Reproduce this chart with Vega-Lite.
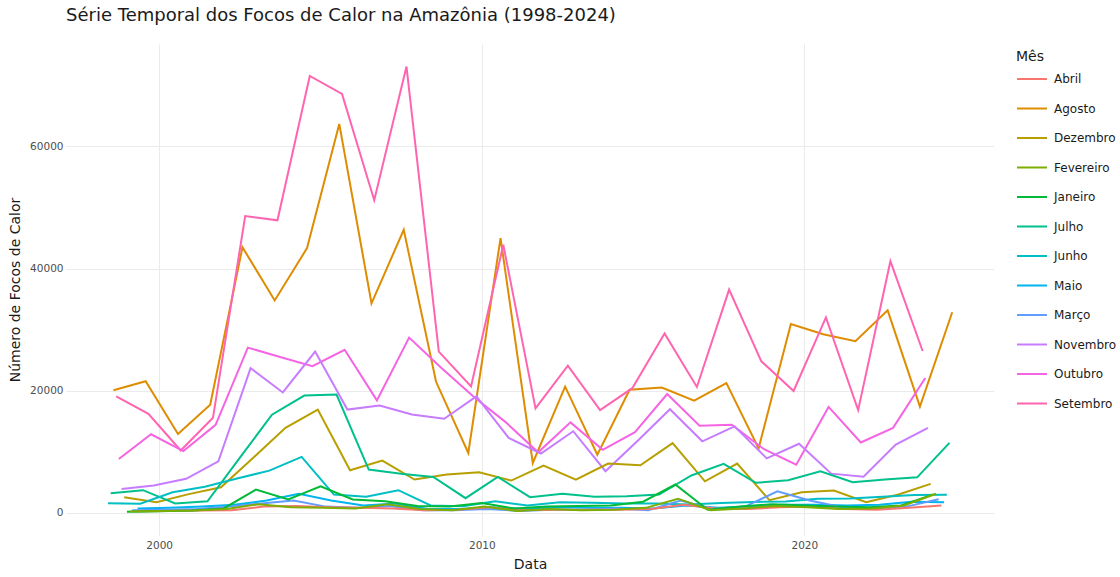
{
"$schema":"https://vega.github.io/schema/vega-lite/v6.json",
"width":928,"height":491,
"autosize":{"type":"none"},
"padding":{"left":66,"top":44,"right":126,"bottom":42},
"background":"white",
"title":{"text":"Série Temporal dos Focos de Calor na Amazônia (1998-2024)","anchor":"start","frame":"group","font":"DejaVu Sans","fontSize":18,"fontWeight":"normal","color":"#1a1a1a","offset":1,"baseline":"bottom"},
"config":{"view":{"stroke":null},"axis":{"domain":false,"ticks":false,"gridColor":"#ebebeb","gridWidth":1,"labelFont":"DejaVu Sans","labelFontSize":10.5,"labelColor":"#4d4d4d","titleFont":"DejaVu Sans","titleFontSize":14,"titleFontWeight":"normal","titleColor":"#1a1a1a"},"legend":{"labelFont":"DejaVu Sans","titleFont":"DejaVu Sans"}},
"data":{"values":[
{"d":"1998-08-01","m":"Agosto","v":20075},{"d":"1999-08-01","m":"Agosto","v":21540},{"d":"2000-08-01","m":"Agosto","v":12900},{"d":"2001-08-01","m":"Agosto","v":17700},{"d":"2002-08-01","m":"Agosto","v":43500},{"d":"2003-08-01","m":"Agosto","v":34780},{"d":"2004-08-01","m":"Agosto","v":43350},{"d":"2005-08-01","m":"Agosto","v":63700},{"d":"2006-08-01","m":"Agosto","v":34300},{"d":"2007-08-01","m":"Agosto","v":46350},{"d":"2008-08-01","m":"Agosto","v":21450},{"d":"2009-08-01","m":"Agosto","v":9800},{"d":"2010-08-01","m":"Agosto","v":45000},{"d":"2011-08-01","m":"Agosto","v":8150},{"d":"2012-08-01","m":"Agosto","v":20650},{"d":"2013-08-01","m":"Agosto","v":9500},{"d":"2014-08-01","m":"Agosto","v":20150},{"d":"2015-08-01","m":"Agosto","v":20500},{"d":"2016-08-01","m":"Agosto","v":18350},{"d":"2017-08-01","m":"Agosto","v":21240},{"d":"2018-08-01","m":"Agosto","v":10550},{"d":"2019-08-01","m":"Agosto","v":30900},{"d":"2020-08-01","m":"Agosto","v":29250},{"d":"2021-08-01","m":"Agosto","v":28100},{"d":"2022-08-01","m":"Agosto","v":33150},{"d":"2023-08-01","m":"Agosto","v":17400},{"d":"2024-08-01","m":"Agosto","v":32850},
{"d":"1998-09-01","m":"Setembro","v":19071},{"d":"1999-09-01","m":"Setembro","v":16200},{"d":"2000-09-01","m":"Setembro","v":10200},{"d":"2001-09-01","m":"Setembro","v":15550},{"d":"2002-09-01","m":"Setembro","v":48600},{"d":"2003-09-01","m":"Setembro","v":47900},{"d":"2004-09-01","m":"Setembro","v":71550},{"d":"2005-09-01","m":"Setembro","v":68600},{"d":"2006-09-01","m":"Setembro","v":51200},{"d":"2007-09-01","m":"Setembro","v":73100},{"d":"2008-09-01","m":"Setembro","v":26400},{"d":"2009-09-01","m":"Setembro","v":20700},{"d":"2010-09-01","m":"Setembro","v":43900},{"d":"2011-09-01","m":"Setembro","v":17100},{"d":"2012-09-01","m":"Setembro","v":24100},{"d":"2013-09-01","m":"Setembro","v":16800},{"d":"2014-09-01","m":"Setembro","v":20400},{"d":"2015-09-01","m":"Setembro","v":29350},{"d":"2016-09-01","m":"Setembro","v":20600},{"d":"2017-09-01","m":"Setembro","v":36550},{"d":"2018-09-01","m":"Setembro","v":24800},{"d":"2019-09-01","m":"Setembro","v":19950},{"d":"2020-09-01","m":"Setembro","v":32000},{"d":"2021-09-01","m":"Setembro","v":16800},{"d":"2022-09-01","m":"Setembro","v":41200},{"d":"2023-09-01","m":"Setembro","v":26500},
{"d":"1998-10-01","m":"Outubro","v":8814},{"d":"1999-10-01","m":"Outubro","v":12850},{"d":"2000-10-01","m":"Outubro","v":10100},{"d":"2001-10-01","m":"Outubro","v":14400},{"d":"2002-10-01","m":"Outubro","v":27050},{"d":"2003-10-01","m":"Outubro","v":25500},{"d":"2004-10-01","m":"Outubro","v":24000},{"d":"2005-10-01","m":"Outubro","v":26700},{"d":"2006-10-01","m":"Outubro","v":18400},{"d":"2007-10-01","m":"Outubro","v":28700},{"d":"2008-10-01","m":"Outubro","v":23700},{"d":"2009-10-01","m":"Outubro","v":19000},{"d":"2010-10-01","m":"Outubro","v":14800},{"d":"2011-10-01","m":"Outubro","v":9900},{"d":"2012-10-01","m":"Outubro","v":14800},{"d":"2013-10-01","m":"Outubro","v":10300},{"d":"2014-10-01","m":"Outubro","v":13200},{"d":"2015-10-01","m":"Outubro","v":19450},{"d":"2016-10-01","m":"Outubro","v":14250},{"d":"2017-10-01","m":"Outubro","v":14400},{"d":"2018-10-01","m":"Outubro","v":10400},{"d":"2019-10-01","m":"Outubro","v":7870},{"d":"2020-10-01","m":"Outubro","v":17330},{"d":"2021-10-01","m":"Outubro","v":11500},{"d":"2022-10-01","m":"Outubro","v":13900},{"d":"2023-10-01","m":"Outubro","v":22070},
{"d":"1998-11-01","m":"Novembro","v":3900},{"d":"1999-11-01","m":"Novembro","v":4450},{"d":"2000-11-01","m":"Novembro","v":5550},{"d":"2001-11-01","m":"Novembro","v":8430},{"d":"2002-11-01","m":"Novembro","v":23700},{"d":"2003-11-01","m":"Novembro","v":19700},{"d":"2004-11-01","m":"Novembro","v":26400},{"d":"2005-11-01","m":"Novembro","v":16900},{"d":"2006-11-01","m":"Novembro","v":17550},{"d":"2007-11-01","m":"Novembro","v":16100},{"d":"2008-11-01","m":"Novembro","v":15400},{"d":"2009-11-01","m":"Novembro","v":19050},{"d":"2010-11-01","m":"Novembro","v":12250},{"d":"2011-11-01","m":"Novembro","v":9700},{"d":"2012-11-01","m":"Novembro","v":13350},{"d":"2013-11-01","m":"Novembro","v":6800},{"d":"2014-11-01","m":"Novembro","v":11800},{"d":"2015-11-01","m":"Novembro","v":16950},{"d":"2016-11-01","m":"Novembro","v":11700},{"d":"2017-11-01","m":"Novembro","v":14150},{"d":"2018-11-01","m":"Novembro","v":8900},{"d":"2019-11-01","m":"Novembro","v":11300},{"d":"2020-11-01","m":"Novembro","v":6400},{"d":"2021-11-01","m":"Novembro","v":5900},{"d":"2022-11-01","m":"Novembro","v":11150},{"d":"2023-11-01","m":"Novembro","v":13900},
{"d":"1998-12-01","m":"Dezembro","v":2540},{"d":"1999-12-01","m":"Dezembro","v":1720},{"d":"2000-12-01","m":"Dezembro","v":3050},{"d":"2001-12-01","m":"Dezembro","v":4180},{"d":"2002-12-01","m":"Dezembro","v":9000},{"d":"2003-12-01","m":"Dezembro","v":13900},{"d":"2004-12-01","m":"Dezembro","v":16900},{"d":"2005-12-01","m":"Dezembro","v":6950},{"d":"2006-12-01","m":"Dezembro","v":8550},{"d":"2007-12-01","m":"Dezembro","v":5430},{"d":"2008-12-01","m":"Dezembro","v":6250},{"d":"2009-12-01","m":"Dezembro","v":6630},{"d":"2010-12-01","m":"Dezembro","v":5270},{"d":"2011-12-01","m":"Dezembro","v":7730},{"d":"2012-12-01","m":"Dezembro","v":5430},{"d":"2013-12-01","m":"Dezembro","v":8050},{"d":"2014-12-01","m":"Dezembro","v":7770},{"d":"2015-12-01","m":"Dezembro","v":11400},{"d":"2016-12-01","m":"Dezembro","v":5150},{"d":"2017-12-01","m":"Dezembro","v":8050},{"d":"2018-12-01","m":"Dezembro","v":2050},{"d":"2019-12-01","m":"Dezembro","v":3360},{"d":"2020-12-01","m":"Dezembro","v":3630},{"d":"2021-12-01","m":"Dezembro","v":1720},{"d":"2022-12-01","m":"Dezembro","v":2980},{"d":"2023-12-01","m":"Dezembro","v":4730},
{"d":"1998-07-01","m":"Julho","v":3192},{"d":"1999-07-01","m":"Julho","v":3690},{"d":"2000-07-01","m":"Julho","v":1510},{"d":"2001-07-01","m":"Julho","v":1880},{"d":"2002-07-01","m":"Julho","v":9000},{"d":"2003-07-01","m":"Julho","v":16050},{"d":"2004-07-01","m":"Julho","v":19200},{"d":"2005-07-01","m":"Julho","v":19350},{"d":"2006-07-01","m":"Julho","v":7070},{"d":"2007-07-01","m":"Julho","v":6400},{"d":"2008-07-01","m":"Julho","v":5870},{"d":"2009-07-01","m":"Julho","v":2380},{"d":"2010-07-01","m":"Julho","v":5870},{"d":"2011-07-01","m":"Julho","v":2540},{"d":"2012-07-01","m":"Julho","v":3090},{"d":"2013-07-01","m":"Julho","v":2600},{"d":"2014-07-01","m":"Julho","v":2700},{"d":"2015-07-01","m":"Julho","v":2980},{"d":"2016-07-01","m":"Julho","v":6100},{"d":"2017-07-01","m":"Julho","v":8000},{"d":"2018-07-01","m":"Julho","v":4900},{"d":"2019-07-01","m":"Julho","v":5320},{"d":"2020-07-01","m":"Julho","v":6800},{"d":"2021-07-01","m":"Julho","v":5000},{"d":"2022-07-01","m":"Julho","v":5430},{"d":"2023-07-01","m":"Julho","v":5800},{"d":"2024-07-01","m":"Julho","v":11450},
{"d":"1998-06-01","m":"Junho","v":1549},{"d":"1999-06-01","m":"Junho","v":1460},{"d":"2000-06-01","m":"Junho","v":3360},{"d":"2001-06-01","m":"Junho","v":4240},{"d":"2002-06-01","m":"Junho","v":5600},{"d":"2003-06-01","m":"Junho","v":6900},{"d":"2004-06-01","m":"Junho","v":9150},{"d":"2005-06-01","m":"Junho","v":2980},{"d":"2006-06-01","m":"Junho","v":2600},{"d":"2007-06-01","m":"Junho","v":3690},{"d":"2008-06-01","m":"Junho","v":1180},{"d":"2009-06-01","m":"Junho","v":1070},{"d":"2010-06-01","m":"Junho","v":1880},{"d":"2011-06-01","m":"Junho","v":1180},{"d":"2012-06-01","m":"Junho","v":1720},{"d":"2013-06-01","m":"Junho","v":1620},{"d":"2014-06-01","m":"Junho","v":1510},{"d":"2015-06-01","m":"Junho","v":1510},{"d":"2016-06-01","m":"Junho","v":1340},{"d":"2017-06-01","m":"Junho","v":1600},{"d":"2018-06-01","m":"Junho","v":1750},{"d":"2019-06-01","m":"Junho","v":1850},{"d":"2020-06-01","m":"Junho","v":2300},{"d":"2021-06-01","m":"Junho","v":2350},{"d":"2022-06-01","m":"Junho","v":2600},{"d":"2023-06-01","m":"Junho","v":2900},{"d":"2024-06-01","m":"Junho","v":2930},
{"d":"1999-05-01","m":"Maio","v":700},{"d":"2000-05-01","m":"Maio","v":800},{"d":"2001-05-01","m":"Maio","v":1000},{"d":"2002-05-01","m":"Maio","v":1300},{"d":"2003-05-01","m":"Maio","v":2000},{"d":"2004-05-01","m":"Maio","v":3100},{"d":"2005-05-01","m":"Maio","v":2000},{"d":"2006-05-01","m":"Maio","v":1200},{"d":"2007-05-01","m":"Maio","v":1500},{"d":"2008-05-01","m":"Maio","v":600},{"d":"2009-05-01","m":"Maio","v":600},{"d":"2010-05-01","m":"Maio","v":900},{"d":"2011-05-01","m":"Maio","v":600},{"d":"2012-05-01","m":"Maio","v":900},{"d":"2013-05-01","m":"Maio","v":800},{"d":"2014-05-01","m":"Maio","v":800},{"d":"2015-05-01","m":"Maio","v":700},{"d":"2016-05-01","m":"Maio","v":1200},{"d":"2017-05-01","m":"Maio","v":800},{"d":"2018-05-01","m":"Maio","v":1000},{"d":"2019-05-01","m":"Maio","v":1300},{"d":"2020-05-01","m":"Maio","v":1300},{"d":"2021-05-01","m":"Maio","v":1200},{"d":"2022-05-01","m":"Maio","v":1300},{"d":"2023-05-01","m":"Maio","v":1800},{"d":"2024-05-01","m":"Maio","v":1700},
{"d":"1999-03-01","m":"Março","v":400},{"d":"2000-03-01","m":"Março","v":500},{"d":"2001-03-01","m":"Março","v":600},{"d":"2002-03-01","m":"Março","v":1000},{"d":"2003-03-01","m":"Março","v":1500},{"d":"2004-03-01","m":"Março","v":2000},{"d":"2005-03-01","m":"Março","v":1000},{"d":"2006-03-01","m":"Março","v":800},{"d":"2007-03-01","m":"Março","v":1100},{"d":"2008-03-01","m":"Março","v":400},{"d":"2009-03-01","m":"Março","v":400},{"d":"2010-03-01","m":"Março","v":600},{"d":"2011-03-01","m":"Março","v":300},{"d":"2012-03-01","m":"Março","v":500},{"d":"2013-03-01","m":"Março","v":500},{"d":"2014-03-01","m":"Março","v":700},{"d":"2015-03-01","m":"Março","v":400},{"d":"2016-03-01","m":"Março","v":2000},{"d":"2017-03-01","m":"Março","v":600},{"d":"2018-03-01","m":"Março","v":1000},{"d":"2019-03-01","m":"Março","v":3500},{"d":"2020-03-01","m":"Março","v":2000},{"d":"2021-03-01","m":"Março","v":900},{"d":"2022-03-01","m":"Março","v":700},{"d":"2023-03-01","m":"Março","v":1000},{"d":"2024-03-01","m":"Março","v":2200},
{"d":"1999-04-01","m":"Abril","v":250},{"d":"2000-04-01","m":"Abril","v":300},{"d":"2001-04-01","m":"Abril","v":350},{"d":"2002-04-01","m":"Abril","v":400},{"d":"2003-04-01","m":"Abril","v":1000},{"d":"2004-04-01","m":"Abril","v":1100},{"d":"2005-04-01","m":"Abril","v":900},{"d":"2006-04-01","m":"Abril","v":800},{"d":"2007-04-01","m":"Abril","v":700},{"d":"2008-04-01","m":"Abril","v":400},{"d":"2009-04-01","m":"Abril","v":500},{"d":"2010-04-01","m":"Abril","v":900},{"d":"2011-04-01","m":"Abril","v":400},{"d":"2012-04-01","m":"Abril","v":500},{"d":"2013-04-01","m":"Abril","v":500},{"d":"2014-04-01","m":"Abril","v":500},{"d":"2015-04-01","m":"Abril","v":600},{"d":"2016-04-01","m":"Abril","v":1300},{"d":"2017-04-01","m":"Abril","v":700},{"d":"2018-04-01","m":"Abril","v":600},{"d":"2019-04-01","m":"Abril","v":900},{"d":"2020-04-01","m":"Abril","v":1000},{"d":"2021-04-01","m":"Abril","v":600},{"d":"2022-04-01","m":"Abril","v":500},{"d":"2023-04-01","m":"Abril","v":800},{"d":"2024-04-01","m":"Abril","v":1200},
{"d":"1999-01-01","m":"Janeiro","v":150},{"d":"2000-01-01","m":"Janeiro","v":250},{"d":"2001-01-01","m":"Janeiro","v":350},{"d":"2002-01-01","m":"Janeiro","v":700},{"d":"2003-01-01","m":"Janeiro","v":3800},{"d":"2004-01-01","m":"Janeiro","v":2160},{"d":"2005-01-01","m":"Janeiro","v":4340},{"d":"2006-01-01","m":"Janeiro","v":2160},{"d":"2007-01-01","m":"Janeiro","v":1880},{"d":"2008-01-01","m":"Janeiro","v":1100},{"d":"2009-01-01","m":"Janeiro","v":1000},{"d":"2010-01-01","m":"Janeiro","v":1600},{"d":"2011-01-01","m":"Janeiro","v":700},{"d":"2012-01-01","m":"Janeiro","v":1000},{"d":"2013-01-01","m":"Janeiro","v":1100},{"d":"2014-01-01","m":"Janeiro","v":1200},{"d":"2015-01-01","m":"Janeiro","v":1800},{"d":"2016-01-01","m":"Janeiro","v":4620},{"d":"2017-01-01","m":"Janeiro","v":500},{"d":"2018-01-01","m":"Janeiro","v":1000},{"d":"2019-01-01","m":"Janeiro","v":1400},{"d":"2020-01-01","m":"Janeiro","v":1200},{"d":"2021-01-01","m":"Janeiro","v":1000},{"d":"2022-01-01","m":"Janeiro","v":900},{"d":"2023-01-01","m":"Janeiro","v":1200},{"d":"2024-01-01","m":"Janeiro","v":3000},
{"d":"1999-02-01","m":"Fevereiro","v":200},{"d":"2000-02-01","m":"Fevereiro","v":300},{"d":"2001-02-01","m":"Fevereiro","v":350},{"d":"2002-02-01","m":"Fevereiro","v":600},{"d":"2003-02-01","m":"Fevereiro","v":1400},{"d":"2004-02-01","m":"Fevereiro","v":900},{"d":"2005-02-01","m":"Fevereiro","v":800},{"d":"2006-02-01","m":"Fevereiro","v":700},{"d":"2007-02-01","m":"Fevereiro","v":1400},{"d":"2008-02-01","m":"Fevereiro","v":600},{"d":"2009-02-01","m":"Fevereiro","v":400},{"d":"2010-02-01","m":"Fevereiro","v":1000},{"d":"2011-02-01","m":"Fevereiro","v":300},{"d":"2012-02-01","m":"Fevereiro","v":600},{"d":"2013-02-01","m":"Fevereiro","v":400},{"d":"2014-02-01","m":"Fevereiro","v":500},{"d":"2015-02-01","m":"Fevereiro","v":800},{"d":"2016-02-01","m":"Fevereiro","v":2300},{"d":"2017-02-01","m":"Fevereiro","v":400},{"d":"2018-02-01","m":"Fevereiro","v":700},{"d":"2019-02-01","m":"Fevereiro","v":1100},{"d":"2020-02-01","m":"Fevereiro","v":900},{"d":"2021-02-01","m":"Fevereiro","v":600},{"d":"2022-02-01","m":"Fevereiro","v":700},{"d":"2023-02-01","m":"Fevereiro","v":1200},{"d":"2024-02-01","m":"Fevereiro","v":3100}
]},
"mark":{"type":"line","strokeWidth":2,"clip":false},
"encoding":{
"x":{"field":"d","type":"temporal","title":"Data","scale":{"domain":[{"year":1997,"month":2,"date":10},{"year":2025,"month":11,"date":17}],"nice":false},"axis":{"values":[{"year":2000,"month":1,"date":1},{"year":2010,"month":1,"date":1},{"year":2020,"month":1,"date":1}],"format":"%Y","labelPadding":5,"titlePadding":7,"labelFlush":false}},
"y":{"field":"v","type":"quantitative","title":"Número de Focos de Calor","scale":{"domain":[-3650,76790],"nice":false,"zero":false},"axis":{"values":[0,20000,40000,60000],"format":"d","labelPadding":3,"titlePadding":7}},
"color":{"field":"m","type":"nominal","title":"Mês","scale":{"domain":["Abril","Agosto","Dezembro","Fevereiro","Janeiro","Julho","Junho","Maio","Março","Novembro","Outubro","Setembro"],"range":["#F8766D","#DE8C00","#B79F00","#7CAE00","#00BA38","#00C08B","#00BFC4","#00B4F0","#619CFF","#C77CFF","#F564E3","#FF64B0"]},"legend":{"orient":"none","legendX":950,"legendY":6,"symbolType":"stroke","symbolSize":900,"symbolStrokeWidth":2,"labelFontSize":12,"labelColor":"#1a1a1a","titleFontSize":14,"titleFontWeight":"normal","titleColor":"#1a1a1a","titlePadding":-1,"rowPadding":7.5,"labelOffset":6,"padding":0}}
}
}
